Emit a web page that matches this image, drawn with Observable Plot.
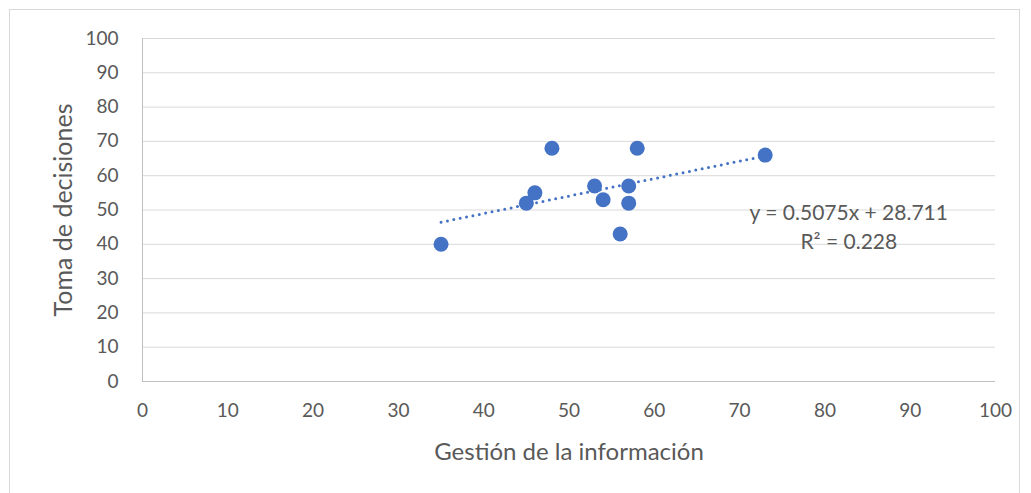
<!DOCTYPE html>
<html>
<head>
<meta charset="utf-8">
<script src="https://cdn.jsdelivr.net/npm/d3@7"></script>
<script src="https://cdn.jsdelivr.net/npm/@observablehq/plot@0.6"></script>
<style>
  html, body { margin: 0; padding: 0; background: #fff; }
  #wrap { position: relative; width: 1031px; height: 493px; }
  #border { position: absolute; left: 9px; top: 9px; width: 1011px; height: 490px; border: 1px solid #d9d9d9; box-sizing: border-box; }
  #chart { position: absolute; left: 0; top: 0; }
</style>
</head>
<body>
<div id="wrap"><div id="border"></div><div id="chart"></div></div>
<script>
const gestion = [35, 45, 46, 48, 53, 54, 56, 57, 57, 58, 73];
const toma    = [40, 52, 55, 68, 57, 53, 43, 57, 52, 68, 66];
const xTicks = [0, 10, 20, 30, 40, 50, 60, 70, 80, 90, 100];
const yTicks = [0, 10, 20, 30, 40, 50, 60, 70, 80, 90, 100];
const xTitle = "Gestión de la información";
const yTitle = "Toma de decisiones";
const eqLabels = ["y = 0.5075x + 28.711", "R² = 0.228"];
const eqX = [82.8, 82.8];
const eqY = [49, 40.6];

const pts = gestion.map((g, i) => ({x: g, y: toma[i]}));
const eq = eqLabels.map((t, i) => ({t, x: eqX[i], y: eqY[i]}));
const blue = "#4472C4";
const font = "Lato, 'Open Sans', sans-serif";

const chart = Plot.plot({
  width: 1031,
  height: 493,
  marginLeft: 142,
  marginRight: 36,
  marginTop: 38,
  marginBottom: 112,
  style: {fontFamily: font, fontSize: "19px", color: "#595959", background: "transparent"},
  x: {domain: [0, 100], ticks: xTicks, tickSize: 0, tickPadding: 22, label: null},
  y: {domain: [0, 100], ticks: yTicks, tickSize: 0, tickPadding: 24, label: null},
  marks: [
    Plot.gridY(yTicks, {stroke: "#d9d9d9", strokeOpacity: 1, strokeWidth: 1}),
    Plot.ruleX([0], {stroke: "#bfbfbf", strokeWidth: 1}),
    Plot.ruleY([0], {stroke: "#bfbfbf", strokeWidth: 1}),
    Plot.axisX({ticks: xTicks, tickSize: 0, tickPadding: 22, fill: "#595959", fontSize: 19, label: null}),
    Plot.axisY({ticks: yTicks, tickSize: 0, tickPadding: 24, fill: "#595959", fontSize: 19, label: null}),
    Plot.linearRegressionY(pts, {x: "x", y: "y", ci: 0, stroke: blue, strokeWidth: 3, strokeDasharray: "0,6.5", strokeLinecap: "round"}),
    Plot.dot(pts, {x: "x", y: "y", r: 7.5, fill: blue, stroke: "none"}),
    Plot.text(eq, {x: "x", y: "y", text: "t", fill: "#595959", fontSize: 21, textAnchor: "middle"}),
    Plot.text([xTitle], {frameAnchor: "bottom", dy: 78, text: d => d, fill: "#595959", fontSize: 24, textAnchor: "middle"}),
    Plot.text([yTitle], {frameAnchor: "left", dx: -79, rotate: -90, text: d => d, fill: "#595959", fontSize: 25, textAnchor: "middle"})
  ]
});
document.getElementById("chart").appendChild(chart);
</script>
</body>
</html>
